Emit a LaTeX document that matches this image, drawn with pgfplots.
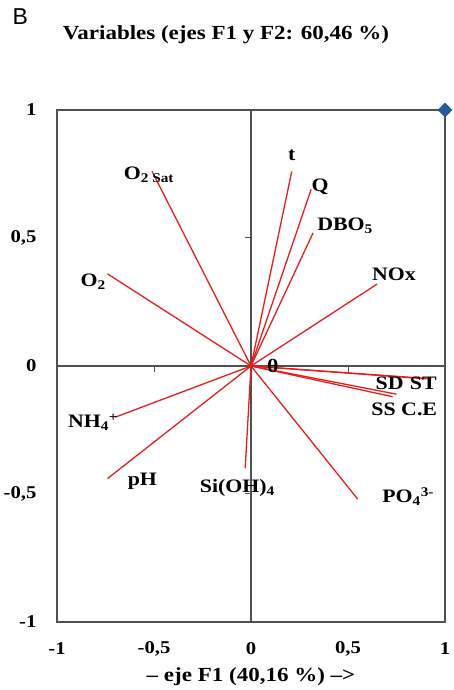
\documentclass[border=0pt]{standalone}
\usepackage{fontspec}
\setmainfont{Liberation Serif}[FakeStretch=1.15]
\newfontfamily\panelfont{Liberation Sans}
\usepackage{pgfplots}
\pgfplotsset{compat=1.18}
\definecolor{vec}{RGB}{228,30,30}
\definecolor{frame}{RGB}{80,80,80}
\definecolor{diam}{RGB}{40,88,158}
\tikzset{lbl/.style={font=\bfseries\fontsize{19}{19}\selectfont, inner sep=0pt}}

\begin{document}
\begin{tikzpicture}[x=1pt,y=1pt]
\useasboundingbox (0,0) rectangle (453,690);
\node[font=\panelfont\fontsize{23}{23}\selectfont, anchor=base west] at (9,665) {B};
\node[font=\bfseries\fontsize{20}{20}\selectfont] at (226,655) {Variables (ejes F1 y F2: 60,46 \%)};
\begin{axis}[
    at={(57pt,68pt)}, anchor=south west,
    scale only axis, width=388pt, height=512pt,
    xmin=-1, xmax=1, ymin=-1, ymax=1,
    clip=false,
    axis line style={frame, line width=1.3pt},
    xtick={-1,-0.5,0,0.5,1}, ytick={-1,-0.5,0,0.5,1},
    major tick length=0pt,
    /pgf/number format/use comma,
    /pgf/number format/assume math mode=true,
    ticklabel style={font=\bfseries\fontsize{18}{18}\selectfont},
    xticklabel style={anchor=center, yshift=-27pt},
    yticklabel style={anchor=east, xshift=-17pt},
    xlabel={-- eje F1 (40,16 \%) -->},
    xlabel style={font=\bfseries\fontsize{20}{20}\selectfont, at={(axis description cs:0.5,0)}, anchor=center, yshift=-55pt},
]
    % zero lines with their small ticks
    \draw[frame, line width=1.3pt] (axis cs:-1,0) -- (axis cs:1,0);
    \draw[frame, line width=1.3pt] (axis cs:0,-1) -- (axis cs:0,1);
    \draw[frame, line width=1pt] (axis cs:-0.5,0) -- ++(0pt,-6pt);
    \draw[frame, line width=1pt] (axis cs:0.5,0) -- ++(0pt,-6pt);
    \draw[frame, line width=1pt] (axis cs:0,0.5) -- ++(-6pt,0pt);
    \draw[frame, line width=1pt] (axis cs:0,-0.5) -- ++(-6pt,0pt);

    % variable vectors
    \addplot[vec, line width=1.3pt] coordinates {(0,0) (0.21,0.76)};   % t
    \addplot[vec, line width=1.3pt] coordinates {(0,0) (0.31,0.69)};   % Q
    \addplot[vec, line width=1.3pt] coordinates {(0,0) (0.32,0.52)};   % DBO5
    \addplot[vec, line width=1.3pt] coordinates {(0,0) (0.65,0.32)};   % NOx
    \addplot[vec, line width=1.3pt] coordinates {(0,0) (-0.51,0.76)};  % O2 Sat
    \addplot[vec, line width=1.3pt] coordinates {(0,0) (-0.74,0.36)};  % O2
    \addplot[vec, line width=1.3pt] coordinates {(0,0) (0.90,-0.05)};  % SD
    \addplot[vec, line width=1.3pt] coordinates {(0,0) (0.93,-0.05)};  % ST
    \addplot[vec, line width=1.3pt] coordinates {(0,0) (0.73,-0.12)};  % SS
    \addplot[vec, line width=1.3pt] coordinates {(0,0) (0.75,-0.11)};  % C.E
    \addplot[vec, line width=1.3pt] coordinates {(0,0) (0.10,-0.005)}; % theta
    \addplot[vec, line width=1.3pt] coordinates {(0,0) (-0.70,-0.20)}; % NH4
    \addplot[vec, line width=1.3pt] coordinates {(0,0) (-0.74,-0.44)}; % pH
    \addplot[vec, line width=1.3pt] coordinates {(0,0) (-0.03,-0.40)}; % Si(OH)4
    \addplot[vec, line width=1.3pt] coordinates {(0,0) (0.55,-0.52)};  % PO4

    \addplot[only marks, mark=square*, mark options={rotate=45}, mark size=5pt, diam] coordinates {(1,1)};

    % labels
    \node[lbl] at (axis cs:0.21,0.824) {t};
    \node[lbl] at (axis cs:0.356,0.70) {Q};
    \node[lbl] at (axis cs:0.485,0.547) {DBO\textsubscript{5}};
    \node[lbl] at (axis cs:0.737,0.36) {NOx};
    \node[lbl] at (axis cs:-0.526,0.746) {O\textsubscript{2 Sat}};
    \node[lbl] at (axis cs:-0.814,0.328) {O\textsubscript{2}};
    \node[lbl] at (axis cs:0.113,0.0) {θ};
    \node[lbl] at (axis cs:0.80,-0.066) {SD\,\,ST};
    \node[lbl] at (axis cs:0.79,-0.168) {SS C.E};
    \node[lbl] at (axis cs:-0.814,-0.219) {NH\textsubscript{4}\textsuperscript{+}};
    \node[lbl] at (axis cs:-0.56,-0.45) {pH};
    \node[lbl] at (axis cs:-0.07,-0.476) {Si(OH)\textsubscript{4}};
    \node[lbl] at (axis cs:0.81,-0.51) {PO\textsubscript{4}\textsuperscript{3-}};
\end{axis}
\end{tikzpicture}
\end{document}
